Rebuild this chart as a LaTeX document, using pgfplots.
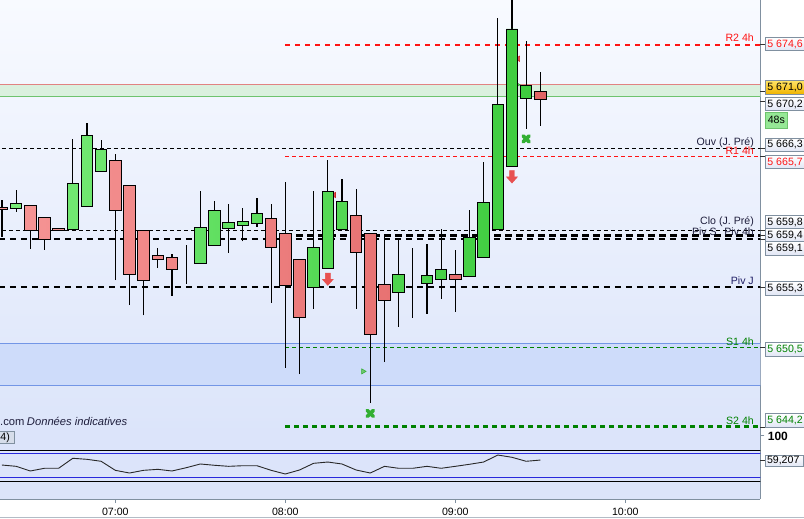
\documentclass[border=0pt]{standalone}
\usepackage{fontspec}
\setmainfont{Liberation Sans}
\usepackage{pgfplots}
\pgfplotsset{compat=1.18}
\usepackage{pgfplotstable}

\definecolor{bgtop}{RGB}{248,250,255}
\definecolor{bgbot}{RGB}{220,229,250}
\definecolor{rsibg}{RGB}{220,228,250}
\definecolor{frame}{RGB}{128,144,160}
\definecolor{cgreenl}{RGB}{120,236,120}
\definecolor{cgreend}{RGB}{62,204,62}
\definecolor{credl}{RGB}{246,150,150}
\definecolor{credd}{RGB}{226,100,100}
\definecolor{lvred}{RGB}{255,20,20}
\definecolor{lvgreen}{RGB}{0,130,0}
\definecolor{bandgreen}{RGB}{218,240,222}
\definecolor{bandgline}{RGB}{110,195,110}
\definecolor{bandrline}{RGB}{225,130,130}
\definecolor{bandblue}{RGB}{206,220,250}
\definecolor{bandbline}{RGB}{115,150,230}
\definecolor{txtdark}{RGB}{30,30,60}
\definecolor{navy}{RGB}{30,30,100}
\definecolor{mkred}{RGB}{232,80,80}
\definecolor{mkredd}{RGB}{200,40,40}
\definecolor{mkgreen}{RGB}{50,175,50}
\definecolor{gold}{RGB}{255,210,0}
\definecolor{goldd}{RGB}{240,180,0}
\definecolor{boxbot}{RGB}{225,230,245}
\definecolor{lgreen}{RGB}{150,232,150}
\definecolor{rsiblue}{RGB}{40,40,220}
\definecolor{rsiline}{RGB}{40,40,40}
\definecolor{lbbg}{RGB}{214,221,234}

\newcommand{\labfont}{\fontsize{10.6bp}{12bp}\selectfont}

\pgfdeclareplotmark{downarrow}{%
  \pgfpathmoveto{\pgfqpoint{-2.5bp}{6.2bp}}%
  \pgfpathlineto{\pgfqpoint{2.5bp}{6.2bp}}%
  \pgfpathlineto{\pgfqpoint{2.5bp}{0bp}}%
  \pgfpathlineto{\pgfqpoint{5.5bp}{0bp}}%
  \pgfpathlineto{\pgfqpoint{0bp}{-6.2bp}}%
  \pgfpathlineto{\pgfqpoint{-5.5bp}{0bp}}%
  \pgfpathlineto{\pgfqpoint{-2.5bp}{0bp}}%
  \pgfpathclose
  \pgfusepathqfillstroke}

\pgfplotstableread{
k o h l c
0 5661.65 5662.23 5659.30 5661.49
1 5661.57 5663.03 5661.30 5661.97
2 5661.81 5661.81 5658.34 5659.81
3 5660.85 5660.85 5658.26 5659.09
4 5659.97 5659.97 5659.81 5659.81
5 5659.89 5667.10 5659.89 5663.56
6 5661.73 5668.35 5661.73 5667.39
7 5664.52 5667.02 5664.52 5666.28
8 5665.40 5665.90 5655.84 5661.41
9 5663.40 5663.40 5653.85 5656.30
10 5659.81 5659.81 5653.05 5655.82
11 5657.82 5658.38 5656.83 5657.50
12 5657.66 5657.90 5654.60 5656.70
13 5657.18 5658.61 5655.55 5657.18
14 5657.18 5662.95 5657.18 5660.05
15 5658.61 5662.15 5658.61 5661.41
16 5659.97 5661.91 5658.02 5660.45
17 5660.21 5661.59 5658.93 5660.53
18 5660.37 5662.39 5660.10 5661.17
19 5660.77 5661.91 5654.03 5658.45
20 5659.57 5663.64 5648.85 5655.39
21 5657.50 5657.50 5648.37 5652.84
22 5655.23 5662.92 5653.55 5658.45
23 5656.78 5665.42 5656.78 5662.92
24 5659.89 5663.91 5659.89 5662.13
25 5661.01 5663.11 5653.55 5658.06
26 5659.57 5659.57 5646.05 5651.51
27 5655.50 5659.38 5649.32 5654.22
28 5654.86 5659.17 5652.12 5656.30
29 5655.55 5658.40 5652.84 5655.55
30 5655.58 5658.72 5653.16 5656.22
31 5655.90 5659.92 5654.35 5656.70
32 5656.30 5658.24 5653.31 5655.90
33 5656.14 5661.43 5656.14 5659.25
34 5657.66 5665.24 5657.66 5662.05
35 5659.89 5676.73 5659.89 5669.87
36 5664.92 5678.30 5664.92 5675.85
37 5670.35 5674.92 5667.92 5671.33
38 5670.90 5672.45 5668.16 5670.20
}\candles

\pgfplotstableread{
k r
0 51.1
1 49.0
2 41.4
3 45.8
4 45.8
5 62.1
6 60.4
7 57.2
8 42.5
9 38.1
10 42.5
11 44.1
12 41.4
13 46.7
14 52.8
15 50.7
16 49.0
17 50.0
18 50.0
19 42.5
20 36.5
21 43.0
22 53.9
23 56.0
24 52.8
25 43.0
26 38.1
27 49.0
28 45.8
29 45.8
30 49.0
31 45.8
32 49.0
33 52.3
34 56.0
35 67.4
36 63.7
37 57.2
38 59.2
}\rsi

% price box: #1 centre y (page bp), #2 text colour, #3 box style, #4 text
\newcommand{\pbox}[4]{%
  \draw[draw=frame, line width=0.8bp, #3] (765.7bp,#1bp-6.7bp) rectangle (830bp,#1bp+6.7bp);
  \node[anchor=west, inner sep=0pt, text=#2, font=\labfont] at (767.2bp,#1bp) {#4};}
\newcommand{\ptick}[1]{\draw[black!80, line width=0.8bp] (760.3bp,#1bp) -- (765.7bp,#1bp);}

\begin{document}
\begin{tikzpicture}
\path[use as bounding box, fill=white] (0,0) rectangle (804bp,519bp);

% ---------------- main price panel ----------------
\begin{axis}[
  at={(0,91bp)}, anchor=south west,
  width=760.3bp, height=428bp, scale only axis,
  xmin=-0.139, xmax=53.53, ymin=5644.07, ymax=5678.16,
  axis x line*=bottom, axis y line*=right,
  axis line style={draw=frame, line width=0.9bp},
  xtick=\empty, ytick=\empty,
  axis background/.style={top color=bgtop, bottom color=bgbot},
  clip mode=individual,
]
% bands
\addplot[fill=bandgreen, draw=none] coordinates {(-1,5671.41) (55,5671.41) (55,5670.45) (-1,5670.45)} -- cycle;
\addplot[bandrline, line width=1bp] coordinates {(-1,5671.41) (55,5671.41)};
\addplot[bandgline, line width=1bp] coordinates {(-1,5670.45) (55,5670.45)};
\addplot[fill=bandblue, draw=none] coordinates {(-1,5650.82) (55,5650.82) (55,5647.47) (-1,5647.47)} -- cycle;
\addplot[bandbline, line width=1bp] coordinates {(-1,5650.82) (55,5650.82)};
\addplot[bandbline, line width=1bp] coordinates {(-1,5647.47) (55,5647.47)};
% levels
\addplot[lvred, line width=2bp, dash pattern=on 5bp off 5bp] coordinates {(20,5674.6) (55,5674.6)};
\addplot[black, line width=1bp, dash pattern=on 4bp off 3bp] coordinates {(-1,5666.3) (55,5666.3)};
\addplot[lvred, line width=1bp, dash pattern=on 4bp off 3bp] coordinates {(20,5665.7) (55,5665.7)};
\addplot[black, line width=1bp, dash pattern=on 4bp off 3bp] coordinates {(-1,5659.8) (55,5659.8)};
\addplot[black, line width=2.3bp, dash pattern=on 6.5bp off 4.5bp] coordinates {(20,5659.4) (55,5659.4)};
\addplot[black, line width=2.3bp, dash pattern=on 6.5bp off 4.5bp] coordinates {(-1,5659.1) (55,5659.1)};
\addplot[black, line width=2.3bp, dash pattern=on 6.5bp off 4.5bp] coordinates {(-1,5655.3) (55,5655.3)};
\addplot[lvgreen, line width=1bp, dash pattern=on 4bp off 3bp] coordinates {(20,5650.5) (55,5650.5)};
\addplot[lvgreen, line width=3bp, dash pattern=on 5bp off 4bp] coordinates {(20,5644.2) (55,5644.2)};
% wicks
\addplot[draw=none, mark=none, error bars/.cd, y dir=plus, y explicit, error mark=none,
  error bar style={draw=black, solid, line width=1.1bp}]
  table[x=k, y=l, y error plus expr={\thisrow{h}-\thisrow{l}}] {\candles};
% signals
\addplot[only marks, mark=downarrow, mark options={fill=mkred, draw=mkred, line width=0.4bp}]
  coordinates {(23,5655.92) (36,5664.07)};
\addplot[only marks, mark=triangle*, mark size=3bp, mark options={rotate=90, fill=mkred, draw=mkredd, line width=0.6bp}]
  coordinates {(23.44,5662.63) (36.43,5673.48)};
\addplot[only marks, mark=triangle*, mark size=3bp, mark options={rotate=-90, fill=mkgreen!70, draw=mkgreen, line width=0.6bp}]
  coordinates {(25.49,5648.58) (36.36,5671.41)};
\addplot[only marks, mark=x, mark size=4.3bp, mark options={draw=mkgreen, line width=3.6bp, line cap=round}]
  coordinates {(26,5645.23) (37,5667.10)};
\end{axis}

% ---------------- candle bodies ----------------
\begin{axis}[
  at={(0,91bp)}, anchor=south west,
  width=760.3bp, height=428bp, scale only axis,
  xmin=-0.139, xmax=53.53, ymin=5644.07, ymax=5678.16,
  hide axis, ybar stacked, bar width=11.4bp,
]
\addplot[draw=none, fill=none] table[x=k, y expr={min(\thisrow{o},\thisrow{c})}] {\candles};
\addplot[draw=black, line width=0.9bp, left color=cgreenl, right color=cgreend] table[x=k, y expr={max(\thisrow{c}-\thisrow{o},0)}] {\candles};
\addplot[draw=black, line width=0.9bp, left color=credl, right color=credd] table[x=k, y expr={max(\thisrow{o}-\thisrow{c},0)}] {\candles};
\end{axis}

% ---------------- RSI panel ----------------
\begin{axis}[
  at={(0,20bp)}, anchor=south west,
  width=760.3bp, height=71bp, scale only axis,
  xmin=-0.139, xmax=53.53, ymin=-4.2, ymax=111.4,
  axis x line*=bottom, axis y line*=right,
  axis line style={draw=frame, line width=0.9bp},
  axis background/.style={fill=rsibg},
  xtick={8,20,32,44},
  xticklabels={\textnormal{07:00},\textnormal{08:00},\textnormal{09:00},\textnormal{10:00}},
  ytick={100}, yticklabels={\textbf{100}},
  tick align=outside, major tick length=4bp,
  tick style={draw=frame, line width=0.8bp},
  xticklabel style={font=\labfont, text=black, yshift=-2bp},
  yticklabel style={font=\fontsize{12bp}{12bp}\selectfont, text=black, yshift=-1.5bp},
  clip mode=individual,
]
\addplot[black, line width=1bp] coordinates {(-1,75) (55,75)};
\addplot[black, line width=1bp] coordinates {(-1,25) (55,25)};
\addplot[rsiblue, line width=1bp] coordinates {(-1,70) (55,70)};
\addplot[rsiblue, line width=1bp] coordinates {(-1,30) (55,30)};
\addplot[rsiline, line width=0.9bp] table[x=k, y=r] {\rsi};
\end{axis}

% ---------------- level labels ----------------
\begin{scope}[every node/.style={font=\labfont, inner sep=0pt, anchor=base east}]
\node[text=lvred] at (754bp,477.3bp) {R2 4h};
\node[text=txtdark] at (754bp,373bp) {Ouv (J. Pré)};
\node[text=lvred] at (754bp,364bp) {R1 4h};
\node[text=txtdark] at (754bp,294bp) {Clo (J. Pré)};
\node[text=txtdark] at (754bp,283.5bp) {Piv 4h};
\node[text=txtdark] at (717bp,283.5bp) {Piv S};
\node[text=navy] at (754bp,234bp) {Piv J};
\node[text=lvgreen] at (754bp,173bp) {S1 4h};
\node[text=lvgreen] at (754bp,94bp) {S2 4h};
\end{scope}

\node[anchor=base west, inner sep=0pt, text=txtdark, font=\fontsize{11.2bp}{12bp}\selectfont] at (0bp,93bp) {.com\hspace{2.5bp}\textit{Données indicatives}};

\draw[draw=frame, fill=lbbg, line width=0.8bp] (-2bp,75.7bp) rectangle (14.3bp,87.3bp);
\node[anchor=west, inner sep=0pt, font=\labfont] at (0.3bp,81.5bp) {4)};

% ---------------- price boxes ----------------
\ptick{474.7}\ptick{428}\ptick{417.7}\ptick{370.2}\ptick{362.6}
\ptick{288.4}\ptick{283.3}\ptick{279.5}\ptick{231.7}\ptick{171.3}\ptick{92}\ptick{58.5}
\pbox{475}{lvred}{top color=white, bottom color=boxbot}{5 674,6}
\pbox{431.7}{black}{top color=gold!60, bottom color=goldd}{5 671,0}
\pbox{415}{black}{top color=white, bottom color=boxbot}{5 670,2}
\draw[draw=bandgline, line width=0.8bp, fill=lgreen] (765.5bp,390.7bp) rectangle (787bp,406.7bp);
\node[inner sep=0pt, font=\labfont] at (776.3bp,398.7bp) {48s};
\pbox{374.3}{black}{top color=white, bottom color=boxbot}{5 666,3}
\pbox{356.8}{lvred}{top color=white, bottom color=boxbot}{5 665,7}
\pbox{296.5}{black}{top color=white, bottom color=boxbot}{5 659,8}
\pbox{283.5}{black}{top color=white, bottom color=boxbot}{5 659,4}
\pbox{270.5}{black}{top color=white, bottom color=boxbot}{5 659,1}
\pbox{230.7}{black}{top color=white, bottom color=boxbot}{5 655,3}
\pbox{169.5}{lvgreen}{top color=white, bottom color=boxbot}{5 650,5}
\pbox{98.7}{lvgreen}{top color=white, bottom color=boxbot}{5 644,2}
\draw[draw=frame, line width=0.8bp, top color=white, bottom color=boxbot] (765.3bp,52.3bp) rectangle (803bp,64bp);
\node[anchor=west, inner sep=0pt, font=\labfont] at (766.8bp,58.15bp) {59,207};

\draw[draw=frame!60, line width=0.8bp] (0,1.7bp) -- (804bp,1.7bp);
\end{tikzpicture}
\end{document}
